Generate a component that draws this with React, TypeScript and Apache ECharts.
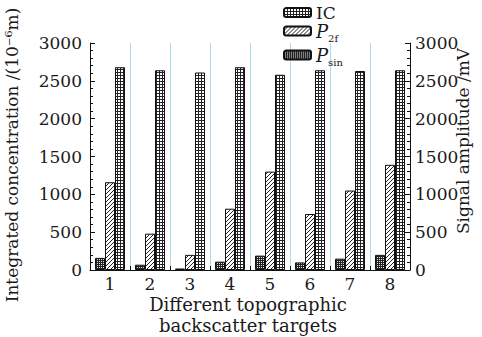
import React, { useEffect, useRef } from "react";
import * as echarts from "echarts";

const categories = ["1", "2", "3", "4", "5", "6", "7", "8"];
const icValues = [2680, 2640, 2610, 2680, 2580, 2640, 2630, 2640];
const p2fValues = [1160, 480, 200, 810, 1300, 740, 1050, 1390];
const psinValues = [160, 70, 20, 110, 190, 100, 150, 200];
const yTicks = { min: 0, max: 3000, interval: 500 };

const FONT = "DejaVu Serif";
const INK = "#1a1a1a";

function makePattern(kind: string): HTMLCanvasElement {
  const c = document.createElement("canvas");
  const ctx = c.getContext("2d")!;
  if (kind === "grid") {
    c.width = 3; c.height = 3;
    ctx.fillStyle = "#fff"; ctx.fillRect(0, 0, 3, 3);
    ctx.fillStyle = "#222"; ctx.fillRect(0, 0, 3, 1); ctx.fillRect(0, 0, 1, 3);
  } else if (kind === "hatch") {
    c.width = 4; c.height = 4;
    ctx.fillStyle = "#fff"; ctx.fillRect(0, 0, 4, 4);
    ctx.fillStyle = "#222";
    for (let i = 0; i < 4; i++) ctx.fillRect(3 - i, i, 1, 1);
  } else {
    c.width = 2; c.height = 2;
    ctx.fillStyle = "#222"; ctx.fillRect(0, 0, 2, 2);
    ctx.fillStyle = "#ddd"; ctx.fillRect(1, 1, 1, 1);
  }
  return c;
}

export default function App() {
  const ref = useRef<HTMLDivElement>(null);
  useEffect(() => {
    const chart = echarts.init(ref.current!, null, { renderer: "svg" });
    const pat = (k: string) => ({ image: makePattern(k), repeat: "repeat" } as any);
    const yAxisBase = (pos: string) => ({
      type: "value",
      position: pos,
      min: yTicks.min,
      max: yTicks.max,
      interval: yTicks.interval,
      axisLine: { show: true, lineStyle: { color: "#111", width: 1 } },
      axisTick: { show: true, inside: true, length: 5, lineStyle: { color: "#111" } },
      minorTick: { show: true, splitNumber: 5, length: 3, lineStyle: { color: "#111" } },
      splitLine: { show: false },
      axisLabel: {
        fontFamily: FONT, fontSize: 17, color: INK, margin: pos === "left" ? 8 : 5,
        formatter: (v: number) => String(v),
      },
    });
    const barStyle = (k: string) => ({ color: pat(k), borderColor: "#111", borderWidth: 1 });
    const legendRich = {
      n: { fontFamily: FONT, fontSize: 17, lineHeight: 20, color: INK },
      i: { fontFamily: FONT, fontSize: 18, fontStyle: "italic", lineHeight: 24, color: INK },
      s: { fontFamily: FONT, fontSize: 10, lineHeight: 4, verticalAlign: "bottom", color: INK },
    };
    const legendItem = (name: string, top: number) => ({
      orient: "vertical",
      left: 283,
      top,
      padding: 0,
      itemWidth: 27,
      itemHeight: 9,
      data: [name],
      formatter: (n: string) =>
        n === "IC" ? "{n|IC}" : n === "P2f" ? "{i|P}{s|2f}" : "{i|P}{s|sin}",
      textStyle: { fontFamily: FONT, color: INK, rich: legendRich },
    });
    chart.setOption({
      animation: false,
      backgroundColor: "#fff",
      grid: { left: 90, right: 72, top: 43, bottom: 67 },
      legend: [legendItem("IC", 4), legendItem("P2f", 22), legendItem("Psin", 46)],
      xAxis: {
        type: "category",
        data: categories,
        axisLine: { lineStyle: { color: "#111" } },
        axisTick: { show: true, inside: true, length: 4, lineStyle: { color: "#111" } },
        axisLabel: { fontFamily: FONT, fontSize: 17, color: INK, margin: 5 },
        splitLine: { show: true, lineStyle: { color: "#a9dde8", width: 1 } },
      },
      yAxis: [yAxisBase("left"), yAxisBase("right")],
      series: [
        { name: "Psin", type: "bar", yAxisIndex: 1, data: psinValues, barWidth: 10, barGap: "0%", itemStyle: barStyle("dots") },
        { name: "P2f", type: "bar", yAxisIndex: 1, data: p2fValues, barWidth: 10, barGap: "0%", itemStyle: barStyle("hatch") },
        { name: "IC", type: "bar", yAxisIndex: 0, data: icValues, barWidth: 10, barGap: "0%", itemStyle: barStyle("grid") },
      ],
      graphic: [
        {
          type: "text", x: 12, y: 155, rotation: Math.PI / 2,
          style: { text: "Integrated concentration /(10⁻⁶m)", font: `17px "${FONT}"`, fill: INK, align: "center", verticalAlign: "middle" },
        },
        {
          type: "text", x: 463, y: 141, rotation: Math.PI / 2,
          style: { text: "Signal amplitude /mV", font: `17px "${FONT}"`, fill: INK, align: "center", verticalAlign: "middle" },
        },
        {
          type: "text", x: 248, y: 315,
          style: { text: "Different topographic\nbackscatter targets", font: `18px "${FONT}"`, lineHeight: 21, fill: INK, align: "center", verticalAlign: "middle" },
        },
      ],
    });
    return () => chart.dispose();
  }, []);
  return <div ref={ref} style={{ width: 482, height: 337, position: "absolute", left: 0, top: 0 }} />;
}
